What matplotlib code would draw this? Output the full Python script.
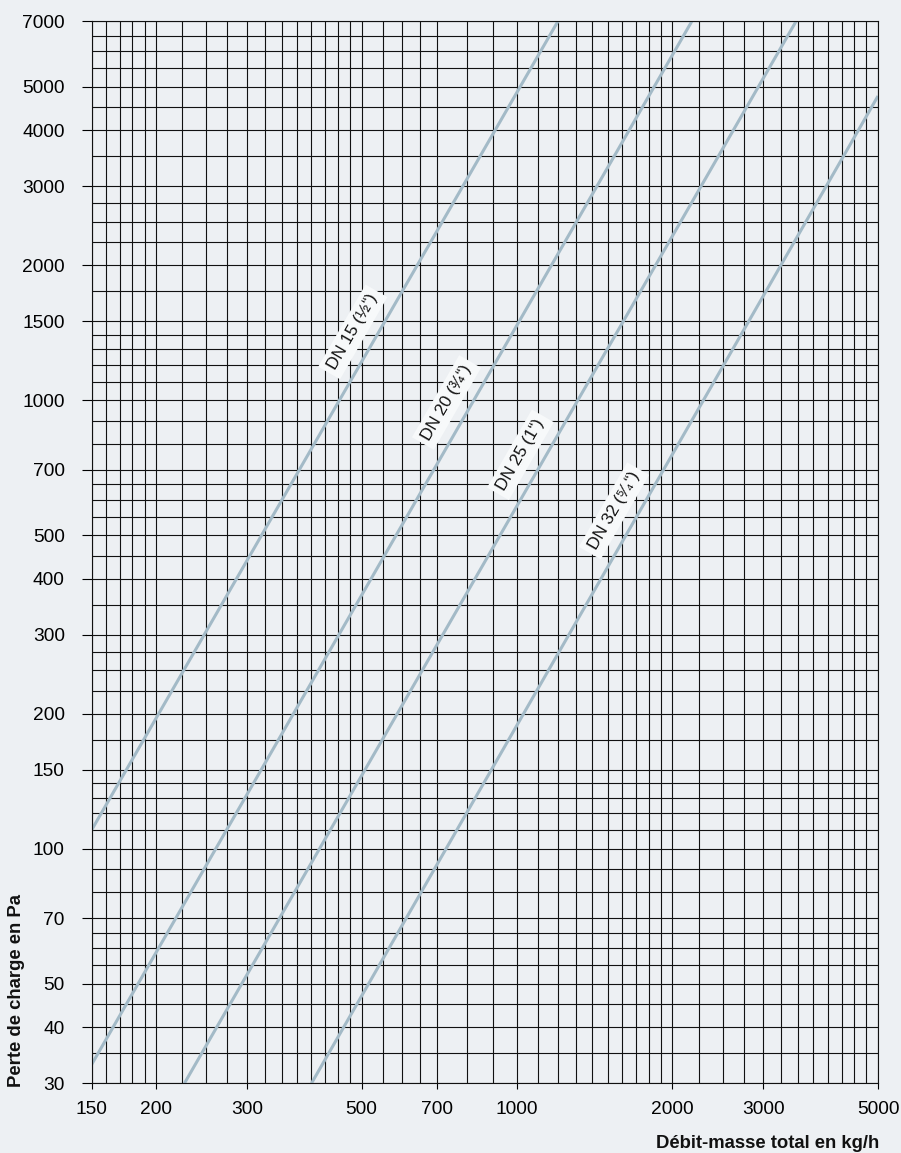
import matplotlib
matplotlib.use('Agg')
import matplotlib.pyplot as plt
import numpy as np
from matplotlib.ticker import NullFormatter

plt.rcParams['font.family'] = ['Liberation Sans', 'DejaVu Sans']

# each pipe size is a straight line on log-log paper: two points read on it (kg/h, Pa)
dn_labels = ['DN 15 (½“)', 'DN 20 (¾“)', 'DN 25 (1“)', 'DN 32 (⁵⁄₄“)']
q_from = [150, 150, 227, 400]
p_from = [110, 33, 30, 30]
q_to = [1200, 2180, 3470, 5000]
p_to = [7000, 7000, 7000, 4770]
label_q = [540, 820, 1140, 1730]

x_ticks = [150, 200, 300, 500, 700, 1000, 2000, 3000, 5000]
y_ticks = [30, 40, 50, 70, 100, 150, 200, 300, 400, 500, 700,
           1000, 1500, 2000, 3000, 4000, 5000, 7000]

# ruling of the paper
x_grid = (list(range(150, 200, 10)) + list(range(200, 500, 25)) + list(range(500, 700, 50))
          + list(range(700, 2000, 100)) + list(range(2000, 5001, 250)))
y_grid = (list(range(30, 70, 5)) + list(range(70, 150, 10)) + list(range(150, 300, 25))
          + list(range(300, 700, 50)) + list(range(700, 1500, 100))
          + list(range(1500, 3000, 250)) + list(range(3000, 7001, 500)))

bg = '#edf0f3'
line_col = '#a3bac7'

W, H = 901, 1153
fig = plt.figure(figsize=(W / 100, H / 100), dpi=100, facecolor=bg)
ax = fig.add_axes([91.5 / W, 1 - 1083.3 / H, (878 - 91.5) / W, (1083.3 - 21.3) / H])
ax.set_facecolor(bg)
ax.set_xscale('log')
ax.set_yscale('log')
ax.set_xlim(150, 5000)
ax.set_ylim(30, 7000)

ax.set_xticks(x_grid, minor=True)
ax.set_yticks(y_grid, minor=True)
ax.set_xticks(x_ticks, labels=[str(v) for v in x_ticks])
ax.set_yticks(y_ticks, labels=[str(v) for v in y_ticks])
ax.xaxis.set_minor_formatter(NullFormatter())
ax.yaxis.set_minor_formatter(NullFormatter())
ax.grid(which='both', color='#111111', linewidth=0.8)
ax.tick_params(which='minor', length=0)
ax.tick_params(axis='y', which='major', length=7.2, width=0.8, pad=12, labelsize=13.8)
ax.tick_params(axis='x', which='major', length=4.5, width=0.8, pad=8, labelsize=13.8)
for s in ax.spines.values():
    s.set_linewidth(0.8)
    s.set_color('#111111')

for lab, q0, p0, q1, p1, ql in zip(dn_labels, q_from, p_from, q_to, p_to, label_q):
    ax.plot([q0, q1], [p0, p1], color=line_col, linewidth=2.2, solid_capstyle='butt')
    n = np.log(p1 / p0) / np.log(q1 / q0)
    pl = p0 * (ql / q0) ** n
    (x0, y0), (x1, y1) = ax.transData.transform([(q0, p0), (q1, p1)])
    ang = np.degrees(np.arctan2(y1 - y0, x1 - x0))
    ax.annotate(lab, xy=(ql, pl), xytext=(-26, 0), textcoords='offset pixels',
                rotation=ang, rotation_mode='anchor', ha='center', va='center',
                fontsize=12.3, color='#111111',
                bbox=dict(boxstyle='square,pad=0.3', fc='#f7f9fa', ec='none'))

fig.text(17 / W, 1 - 1087 / H, 'Perte de charge en Pa', rotation=90,
         ha='center', va='bottom', fontsize=13.3, fontweight='bold', color='#111111')
fig.text(879 / W, 1 - 1148 / H, 'Débit-masse total en kg/h',
         ha='right', va='baseline', fontsize=13.3, fontweight='bold', color='#111111')

fig.savefig('out.png', dpi=100, facecolor=bg)
